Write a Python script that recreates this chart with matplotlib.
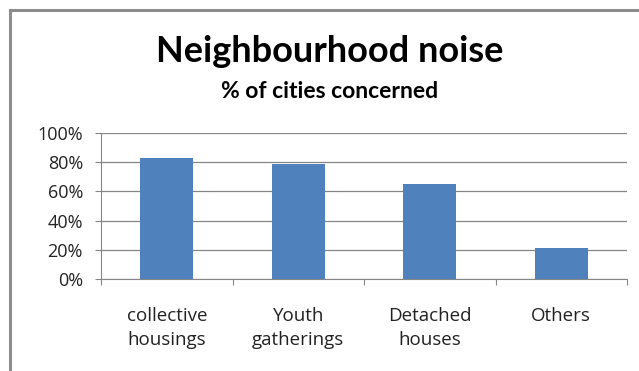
import matplotlib
matplotlib.use("Agg")
import matplotlib.pyplot as plt
import matplotlib.lines as mlines
import numpy as np

# ── Data ──────────────────────────────────────────────────────────────────────
categories = ["collective\nhousings", "Youth\ngatherings", "Detached\nhouses", "Others"]
shares = [0.83, 0.79, 0.65, 0.21]
y_ticks = [0.0, 0.2, 0.4, 0.6, 0.8, 1.0]
y_tick_labels = ["0%", "20%", "40%", "60%", "80%", "100%"]

C_BAR = "#4F81BD"
C_GRID = "#868686"
C_FRAME = "#8C8C8C"
C_TEXT = "#222222"

plt.rcParams["font.family"] = ["Lato", "DejaVu Sans"]

W, H = 639, 371
fig = plt.figure(figsize=(W / 100, H / 100), dpi=100)

# outer chart border (top and left only visible)
fig.add_artist(mlines.Line2D([10 / W, 1], [1 - 10 / H, 1 - 10 / H],
                             color=C_FRAME, linewidth=2.2, transform=fig.transFigure))
fig.add_artist(mlines.Line2D([10 / W, 10 / W], [0, 1 - 10 / H],
                             color=C_FRAME, linewidth=2.2, transform=fig.transFigure))

fig.text(330 / W, 1 - 51 / H, "Neighbourhood noise", ha="center", va="center",
         fontsize=26, fontweight="bold")
fig.text(330 / W, 1 - 92 / H, "% of cities concerned", ha="center", va="center",
         fontsize=16.5, fontweight="bold")

left, right, top, bottom = 101, 627, 133, 279
ax = fig.add_axes([left / W, 1 - bottom / H, (right - left) / W, (bottom - top) / H])

x = np.arange(len(categories))
ax.bar(x, shares, width=0.4, color=C_BAR, zorder=3)

ax.set_xlim(-0.5, len(categories) - 0.5)
ax.set_ylim(0, 1.0)
ax.set_yticks(y_ticks)
ax.set_yticklabels(y_tick_labels, fontsize=13, family="Open Sans", color=C_TEXT)
ax.yaxis.grid(True, color=C_GRID, linewidth=0.9, zorder=0)

ax.set_xticks(np.arange(-0.5, len(categories)), minor=False)
ax.set_xticklabels([])
ax.set_xticks(x, minor=True)
ax.set_xticklabels(categories, minor=True, fontsize=13.5, family="Open Sans",
                   color=C_TEXT, linespacing=1.45)
ax.tick_params(axis="x", which="minor", length=0, pad=20)
ax.tick_params(axis="x", which="major", length=4, color=C_GRID, direction="out")
ax.tick_params(axis="y", length=4, color=C_GRID, direction="out", pad=9)

for s in ["top", "right"]:
    ax.spines[s].set_visible(False)
ax.spines["left"].set_color(C_GRID)
ax.spines["bottom"].set_color(C_GRID)

fig.savefig("out.png", dpi=100)
